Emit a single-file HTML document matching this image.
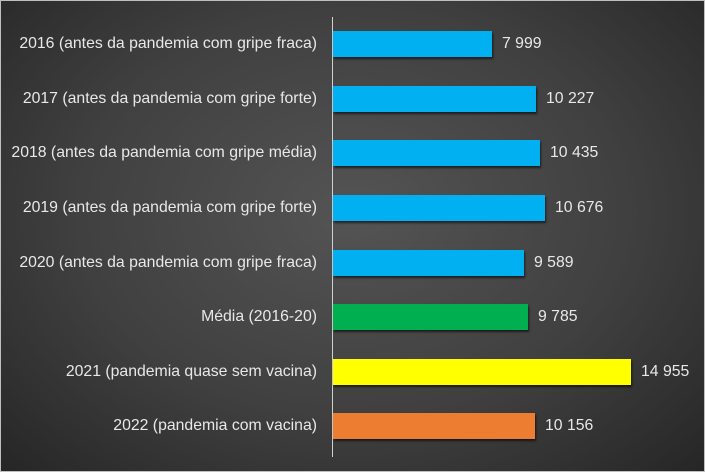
<!DOCTYPE html><html><head><style>
body{margin:0;width:705px;height:472px;overflow:hidden;}
#c{position:relative;width:703px;height:470px;border:1px solid #bfbfbf;background:radial-gradient(ellipse at 50% 45%,#545454 0%,#404040 55%,#262626 100%);font-family:"Liberation Sans",sans-serif;font-size:15.8px;color:#e8e8e8;}
.l{position:absolute;right:387px;white-space:nowrap;line-height:26px;}
.b{position:absolute;left:332px;height:26px;box-shadow:1px 2px 2px rgba(0,0,0,.6);}
.v{position:absolute;line-height:26px;white-space:nowrap;}
#ax{position:absolute;left:331px;top:16px;width:1px;height:440px;background:#d0d0d0;}
</style></head><body><div id="c">
<div id="ax"></div>
<div class="l" style="top:30px">2016 (antes da pandemia com gripe fraca)</div><div class="b" style="top:30px;width:159px;background:#00b0f0"></div><div class="v" style="top:30px;left:501px">7 999</div>
<div class="l" style="top:85px">2017 (antes da pandemia com gripe forte)</div><div class="b" style="top:85px;width:203px;background:#00b0f0"></div><div class="v" style="top:85px;left:545px">10 227</div>
<div class="l" style="top:139px">2018 (antes da pandemia com gripe média)</div><div class="b" style="top:139px;width:207px;background:#00b0f0"></div><div class="v" style="top:139px;left:549px">10 435</div>
<div class="l" style="top:194px">2019 (antes da pandemia com gripe forte)</div><div class="b" style="top:194px;width:212px;background:#00b0f0"></div><div class="v" style="top:194px;left:554px">10 676</div>
<div class="l" style="top:249px">2020 (antes da pandemia com gripe fraca)</div><div class="b" style="top:249px;width:191px;background:#00b0f0"></div><div class="v" style="top:249px;left:533px">9 589</div>
<div class="l" style="top:303px">Média (2016-20)</div><div class="b" style="top:303px;width:195px;background:#00b050"></div><div class="v" style="top:303px;left:537px">9 785</div>
<div class="l" style="top:358px">2021 (pandemia quase sem vacina)</div><div class="b" style="top:358px;width:298px;background:#ffff00"></div><div class="v" style="top:358px;left:640px">14 955</div>
<div class="l" style="top:412px">2022 (pandemia com vacina)</div><div class="b" style="top:412px;width:202px;background:#ed7d31"></div><div class="v" style="top:412px;left:544px">10 156</div>
</div></body></html>
